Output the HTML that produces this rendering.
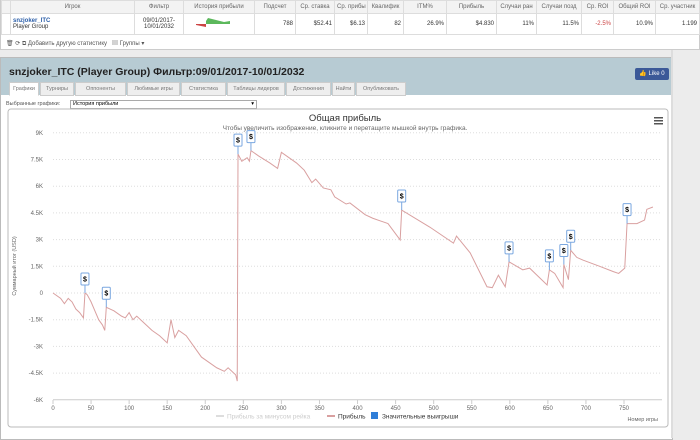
<!DOCTYPE html>
<html><head><meta charset="utf-8">
<style>
body{margin:0;width:700px;height:438px;overflow:hidden;background:#ececec;font-family:"Liberation Sans","Noto Sans CJK SC",sans-serif;position:relative}
.abs{position:absolute}
table{border-collapse:collapse;font-size:6px;color:#333;table-layout:fixed}
td{border:1px solid #ddd;padding:0 2px;height:20px;white-space:nowrap;overflow:hidden}
.hd td{height:12px;background:#f3f3f3;color:#666;text-align:center}
.tab{position:absolute;top:82px;height:12px;background:#eee;border:1px solid #ccc;font-size:5.5px;color:#777;line-height:12px;text-align:center}
</style></head><body>
<div class="abs" style="left:0;top:0;width:698px;height:49px;background:#fff;border:1px solid #ccc;border-top:0">
<table style="position:absolute;left:0;top:0;width:698px">
<colgroup><col style="width:9px"><col style="width:124px"><col style="width:49px"><col style="width:71px"><col style="width:41px"><col style="width:39px"><col style="width:33px"><col style="width:36px"><col style="width:43px"><col style="width:50px"><col style="width:40px"><col style="width:45px"><col style="width:32px"><col style="width:42px"><col style="width:44px"></colgroup>
<tr class="hd"><td></td><td>Игрок</td><td>Фильтр</td><td>История прибыли</td><td>Подсчет</td><td>Ср. ставка</td><td>Ср. прибы</td><td>Квалифик</td><td>ITM%</td><td>Прибыль</td><td>Случаи ран</td><td>Случаи позд</td><td>Ср. ROI</td><td>Общий ROI</td><td>Ср. участник</td></tr>
<tr><td></td><td><b style="color:#2b5ea8">snzjoker_ITC</b><br>Player Group</td><td style="text-align:center">09/01/2017-<br>10/01/2032</td><td><svg width="60" height="14"><path d="M20 5 L22 2 L30 4 L38 6 L44 5 L44 8 L20 8Z" fill="#5cb85c"/><path d="M10 8 L20 8 L20 11 L10 9Z" fill="#c44"/></svg></td><td style="text-align:right">788</td><td style="text-align:right">$52.41</td><td style="text-align:right">$6.13</td><td style="text-align:right">82</td><td style="text-align:right">26.9%</td><td style="text-align:right">$4.830</td><td style="text-align:right">11%</td><td style="text-align:right">11.5%</td><td style="text-align:right;color:#c44">-2.5%</td><td style="text-align:right">10.9%</td><td style="text-align:right">1.199</td></tr>
</table>
<div class="abs" style="left:5px;top:38px;font-size:6px;color:#555">🗑 ⟳ ⧉ Добавить другую статистику &nbsp; ▤ Группы ▾</div>
</div>
<div class="abs" style="left:0;top:57px;width:671px;height:381px;background:#fff;border:1px solid #bbb">
<div class="abs" style="left:0;top:0;width:671px;height:37px;background:#b7cbd3"></div>
<div class="abs" style="left:8px;top:8px;font-size:10.5px;font-weight:bold;color:#222">snzjoker_ITC (Player Group) Фильтр:09/01/2017-10/01/2032</div>
<div class="abs" style="left:634px;top:10px;width:34px;height:12px;background:#3b5998;color:#fff;font-size:6px;line-height:12px;text-align:center;border-radius:2px">👍 Like 0</div>
<div class="abs" style="left:5px;top:43px;font-size:5.5px;color:#555">Выбранные графики:</div>
<div class="abs" style="left:69px;top:42px;width:183px;height:7px;border:1px solid #aaa;font-size:5.5px;line-height:7px;padding-left:2px">История прибыли<span style="float:right;padding-right:2px">▾</span></div>
</div>
<div class="tab" style="left:9px;width:28px;background:#fff;border-bottom-color:#fff">Графики</div>
<div class="tab" style="left:40px;width:32px">Турниры</div>
<div class="tab" style="left:75px;width:49px">Оппоненты</div>
<div class="tab" style="left:127px;width:51px">Любимые игры</div>
<div class="tab" style="left:181px;width:43px">Статистика</div>
<div class="tab" style="left:227px;width:56px">Таблицы лидеров</div>
<div class="tab" style="left:286px;width:43px">Достижения</div>
<div class="tab" style="left:332px;width:21px">Найти</div>
<div class="tab" style="left:356px;width:48px">Опубликовать</div>
<div class="abs" style="left:671px;top:50px;width:2px;height:388px;background:#ddd"></div>
<svg id="chart" class="abs" style="left:0;top:0" width="700" height="438">
<rect x="8" y="109" width="660" height="318" fill="#fff" stroke="#bbb" rx="3"/>
<text x="345" y="121" font-size="9.5" fill="#333" text-anchor="middle">Общая прибыль</text>
<text x="345" y="130" font-size="6.5" fill="#666" text-anchor="middle">Чтобы увеличить изображение, кликните и перетащите мышкой внутрь графика.</text>
<g fill="#555"><rect x="654" y="117" width="9" height="1.5"/><rect x="654" y="120" width="9" height="1.5"/><rect x="654" y="123" width="9" height="1.5"/></g>
<text x="16" y="266" font-size="5.5" fill="#666" transform="rotate(-90 16 266)" text-anchor="middle">Суммарный итог (USD)</text>
<text x="658" y="421" font-size="5.5" fill="#666" text-anchor="end">Номер игры</text>
<g id="grid"></g><g id="xt"></g><g id="line"></g><g id="marks"></g>
<g font-size="6.5">
<line x1="216" y1="416" x2="224" y2="416" stroke="#ddd" stroke-width="2"/><text x="227" y="418.5" fill="#ccc">Прибыль за минусом рейка</text>
<line x1="327" y1="416" x2="335" y2="416" stroke="#d9a0a0" stroke-width="2"/><text x="338" y="418.5" fill="#333">Прибыль</text>
<rect x="371" y="412" width="7" height="7" fill="#2f7ed8"/><text x="382" y="418.5" fill="#333">Значительные выигрыши</text>
</g>
</svg>
<script>
const yTicks=[9000,7500,6000,4500,3000,1500,0,-1500,-3000,-4500,-6000];
const yTickLabels=["9K","7.5K","6K","4.5K","3K","1.5K","0","-1.5K","-3K","-4.5K","-6K"];
const xTicks=[0,50,100,150,200,250,300,350,400,450,500,550,600,650,700,750];
const games=[0,10,15,20,25,30,35,40,42,45,50,55,60,65,68,70,75,80,90,95,100,105,110,120,130,140,150,155,160,165,175,185,195,205,215,225,230,240,242,243,248,255,258,260,270,285,295,300,310,320,330,340,345,355,365,370,385,390,410,420,440,456,458,495,526,530,548,570,577,585,594,599,617,626,649,652,659,670,671,677,680,688,696,718,736,743,751,754,767,777,780,788];
const profit=[0,-300,-600,-300,-500,-900,-1100,-1400,0,-100,-500,-1000,-1500,-1800,-2100,-800,-900,-1000,-1300,-1400,-1100,-1500,-1300,-1700,-2100,-2400,-2800,-1500,-2500,-2100,-2400,-3000,-3600,-3900,-4200,-4400,-4200,-4600,-4950,7800,7400,7600,7400,8000,7700,7300,7000,7900,7600,7300,6900,6200,6400,5900,5800,5400,5000,5060,4400,4200,3900,2980,4660,3700,2800,3200,2250,350,300,1000,350,1750,1300,1400,450,1300,1100,300,1600,750,2400,2000,1850,1500,1200,1100,1400,3900,3900,4100,4700,4830];
const bigWinGames=[42,70,243,260,458,599,652,671,680,754];
const sx=v=>53+v*(571/750), sy=v=>293-v*(26.7/1500);
const NS="http://www.w3.org/2000/svg";
function mk(t,a,p){const e=document.createElementNS(NS,t);for(const k in a)e.setAttribute(k,a[k]);p.appendChild(e);return e;}
const grid=document.getElementById('grid');
yTicks.forEach((v,i)=>{
 const l=mk('line',{x1:53,x2:662,y1:sy(v),y2:sy(v),stroke:i==yTicks.length-1?'#ccc':'#ddd','stroke-dasharray':i==yTicks.length-1?'':'1,2'},grid);
 
 
 const t=mk('text',{x:43,y:sy(v)+2,'font-size':6,fill:'#666','text-anchor':'end'},grid);t.textContent=yTickLabels[i];
 
 
});
const xt=document.getElementById('xt');
xTicks.forEach(v=>{
 mk('line',{x1:sx(v),x2:sx(v),y1:400,y2:404,stroke:'#ccc'},xt);
 const t=mk('text',{x:sx(v),y:410,'font-size':6,fill:'#666','text-anchor':'middle'},xt);t.textContent=v;
 
 
});
const p=mk('path',{d:games.map((g,i)=>(i?'L':'M')+sx(g)+' '+sy(profit[i])).join(''),fill:'none',stroke:'#d9a0a0','stroke-width':1},document.getElementById('line'));


const mg=document.getElementById('marks');
bigWinGames.forEach(g=>{
 const i=games.indexOf(g);const x=sx(g),y=sy(profit[i]);
 const grp=mk('g',{},mg);
 
 
 mk('line',{x1:x,x2:x,y1:y,y2:y-8,stroke:'#7aa7e0'},grp);
 mk('rect',{x:x-4,y:y-20,width:8,height:12,fill:'#fff',stroke:'#7aa7e0','stroke-width':1,rx:1},grp);
 const t=mk('text',{x:x,y:y-11.5,'font-size':7,'font-weight':'bold','text-anchor':'middle',fill:'#000'},grp);t.textContent='$';
});
</script>
</body></html>
